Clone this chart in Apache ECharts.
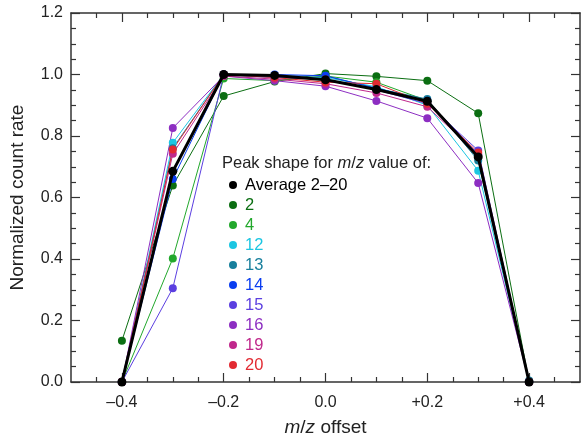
<!DOCTYPE html>
<html>
<head>
<meta charset="utf-8">
<script src="https://cdn.jsdelivr.net/npm/echarts@6/dist/echarts.min.js"></script>
<style>html,body{margin:0;padding:0;background:#fff}#c{width:581px;height:442px}</style>
</head>
<body>
<div id="c"></div>
<script>
const xValues = [-0.4, -0.3, -0.2, -0.1, 0.0, 0.1, 0.2, 0.3, 0.4];
const avg  = [0, 0.685, 1.000, 0.997, 0.983, 0.951, 0.913, 0.732, 0];
const mz2  = [0.134, 0.639, 0.930, 0.977, 1.003, 0.994, 0.980, 0.874, 0];
const mz4  = [0, 0.402, 0.987, 0.980, 0.995, 0.975, 0.915, 0.735, 0];
const mz12 = [0, 0.778, 1.000, 0.990, 0.990, 0.960, 0.900, 0.687, 0];
const mz13 = [0, 0.760, 1.000, 0.995, 0.995, 0.955, 0.920, 0.720, 0.005];
const mz14 = [0, 0.660, 1.000, 1.000, 0.996, 0.955, 0.915, 0.740, 0];
const mz15 = [0, 0.305, 1.000, 0.990, 0.985, 0.950, 0.905, 0.753, 0];
const mz16 = [0, 0.826, 0.995, 0.980, 0.962, 0.914, 0.858, 0.647, 0];
const mz19 = [0, 0.742, 0.995, 0.985, 0.970, 0.940, 0.895, 0.740, 0];
const mz20 = [0, 0.756, 1.000, 0.990, 0.975, 0.970, 0.905, 0.746, 0];

const seriesNames = ['2', '4', '12', '13', '14', '15', '16', '19', '20', 'Average 2–20'];
const seriesData = [mz2, mz4, mz12, mz13, mz14, mz15, mz16, mz19, mz20, avg];
const seriesColors = ['#0b6e12', '#22a82c', '#1cc6e2', '#177f9c', '#0a3df0', '#5b3fe0', '#8d2ec2', '#c0288c', '#e22a32', '#000000'];
const legendOrder = ['Average 2–20', '2', '4', '12', '13', '14', '15', '16', '19', '20'];

const xMajor = [-0.4, -0.2, 0.0, 0.2, 0.4];
const xMinor = [-0.45, -0.35, -0.3, -0.25, -0.15, -0.1, -0.05, 0.05, 0.1, 0.15, 0.25, 0.3, 0.35, 0.45];
const yMajor = [0, 0.2, 0.4, 0.6, 0.8, 1.0, 1.2];
const yMinor = [0.05,0.1,0.15,0.25,0.3,0.35,0.45,0.5,0.55,0.65,0.7,0.75,0.85,0.9,0.95,1.05,1.1,1.15];

const FONT = 'Liberation Sans, Arial, sans-serif';
const AX = '#333';

function fmtX(v) {
  const r = Math.round(v * 10) / 10;
  if (Math.abs(r) < 1e-9) return '0.0';
  return (r > 0 ? '+' : '–') + Math.abs(r).toFixed(1);
}

function xAx(pos, vals, len, labels, line) {
  return {
    type: 'value', position: pos, min: -0.5, max: 0.5, gridIndex: 0,
    splitLine: {show: false},
    axisLine: {show: line, onZero: false, lineStyle: {color: AX, width: 1.5}},
    axisTick: {show: true, inside: true, length: len, customValues: vals, lineStyle: {color: AX, width: 1.2}},
    axisLabel: labels ? {show: true, customValues: vals, formatter: fmtX, fontSize: 16, color: '#222', fontFamily: FONT, margin: 13} : {show: false}
  };
}
function yAx(pos, vals, len, labels, line) {
  return {
    type: 'value', position: pos, min: 0, max: 1.2, gridIndex: 0,
    splitLine: {show: false},
    axisLine: {show: line, onZero: false, lineStyle: {color: AX, width: 1.5}},
    axisTick: {show: true, inside: true, length: len, customValues: vals, lineStyle: {color: AX, width: 1.2}},
    axisLabel: labels ? {show: true, customValues: vals, formatter: v => v.toFixed(1), fontSize: 16, color: '#222', fontFamily: FONT, margin: 8} : {show: false}
  };
}

const xAxes = [
  Object.assign(xAx('bottom', xMajor, 9, true, true), {name: '{i|m}/{i|z} offset', nameLocation: 'middle', nameGap: 36,
    nameTextStyle: {fontSize: 19, color: '#222', fontFamily: FONT, rich: {i: {fontStyle: 'italic', fontSize: 19, color: '#222', fontFamily: FONT}}}}),
  xAx('bottom', xMinor, 5, false, false),
  xAx('top', xMajor, 9, false, true),
  xAx('top', xMinor, 5, false, false)
];
const yAxes = [
  Object.assign(yAx('left', yMajor, 9, true, true), {name: 'Normalized count rate', nameLocation: 'middle', nameGap: 44,
    nameTextStyle: {fontSize: 19, color: '#222', fontFamily: FONT}}),
  yAx('left', yMinor, 5, false, false),
  yAx('right', yMajor, 9, false, true),
  yAx('right', yMinor, 5, false, false)
];

const series = seriesNames.map((name, i) => {
  const isAvg = name.startsWith('Average');
  return {
    name: name, type: 'line', xAxisIndex: 0, yAxisIndex: 0,
    data: xValues.map((x, j) => [x, seriesData[i][j]]),
    symbol: 'circle', symbolSize: isAvg ? 9 : 8,
    color: seriesColors[i],
    lineStyle: {width: isAvg ? 3 : 1, color: seriesColors[i]},
    itemStyle: {color: seriesColors[i]},
    z: isAvg ? 5 : 3,
    animation: false, silent: true
  };
});

const chart = echarts.init(document.getElementById('c'), null, {renderer: 'canvas'});
chart.setOption({
  animation: false,
  backgroundColor: '#fff',
  grid: {left: 70, right: 1, top: 13, bottom: 54, containLabel: false},
  xAxis: xAxes,
  yAxis: yAxes,
  legend: {
    orient: 'vertical', left: 229, top: 175, padding: 0, itemGap: 0,
    itemWidth: 8, itemHeight: 8, icon: 'circle', selectedMode: false,
    textStyle: {fontSize: 16.5, fontFamily: FONT, lineHeight: 20, padding: [0, 0, 0, 3]},
    data: legendOrder.map(n => ({name: n, textStyle: {color: seriesColors[seriesNames.indexOf(n)]}}))
  },
  graphic: [{
    type: 'text', left: 222, top: 155,
    style: {
      text: 'Peak shape for {i|m}/{i|z} value of:',
      fontSize: 16.5, fontFamily: FONT, fill: '#222',
      rich: {i: {fontStyle: 'italic', fontSize: 16.5, fontFamily: FONT, fill: '#222'}}
    }
  }],
  series: series
});
</script>
</body>
</html>
